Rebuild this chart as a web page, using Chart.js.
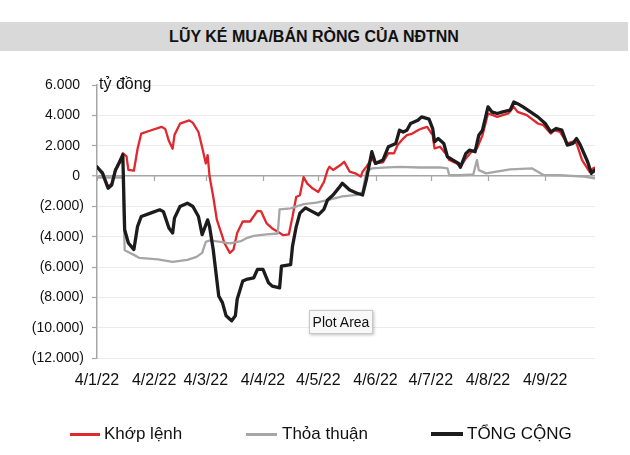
<!DOCTYPE html>
<html><head><meta charset="utf-8">
<script src="https://cdn.jsdelivr.net/npm/chart.js@4.4.0/dist/chart.umd.min.js"></script>
<style>
html,body{margin:0;padding:0;background:#fff;}
#wrap{position:relative;width:630px;height:455px;overflow:hidden;font-family:"Liberation Sans",Arial,sans-serif;color:#111;}
#band{position:absolute;left:0;top:22px;width:628px;height:29px;background:#d9d9d9;}
#title{position:absolute;left:0;top:22px;width:628px;height:29px;line-height:29px;text-align:center;font-weight:bold;font-size:16px;}
canvas{position:absolute;left:0;top:0;}
#unit{position:absolute;left:99px;top:75px;font-size:16px;line-height:18px;}
.lg{position:absolute;font-size:17px;line-height:20px;top:424px;}
.ln{position:absolute;}
#plotarea{position:absolute;left:309px;top:310px;width:62px;height:22px;border:1px solid #c8c8c8;background:#f8f8f8;box-shadow:1px 1px 3px rgba(0,0,0,0.25);font-size:14px;line-height:22px;text-align:center;}
</style></head>
<body>
<div id="wrap">
<div id="band"></div>
<div id="title">LŨY KÉ MUA/BÁN RÒNG CỦA NĐTNN</div>
<canvas id="c" width="630" height="455"></canvas>
<div id="unit">tỷ đồng</div>
<div class="ln" style="left:70px;top:433px;width:30px;height:3px;background:#e0282e"></div>
<div class="lg" style="left:104px">Khớp lệnh</div>
<div class="ln" style="left:246px;top:433px;width:31px;height:3px;background:#a6a6a6"></div>
<div class="lg" style="left:282px">Thỏa thuận</div>
<div class="ln" style="left:431px;top:432px;width:32px;height:4px;background:#1c1c1c"></div>
<div class="lg" style="left:467px">TỔNG CỘNG</div>
<div id="plotarea">Plot Area</div>
</div>
<script>
// x values are days counted from 4/1/22 (4 Jan 2022)
const xTickDays = [0,31,59,90,120,151,181,212,243];
const xTickLabels = ['4/1/22','4/2/22','4/3/22','4/4/22','4/5/22','4/6/22','4/7/22','4/8/22','4/9/22'];

const khopDays = [0,3,6,8,10,11,13,14,16,17,20,22,24,29,35,37,39,41,42,45,50,52,55,57,59,60,61,63,65,68,69,72,74,76,79,83,87,89,92,95,98,101,104,106,108,110,112,114,117,120,123,125,126,128,132,134,137,140,143,144,146,149,151,155,158,161,163,166,168,171,174,176,179,182,183,186,189,191,195,197,200,203,206,209,212,214,217,220,223,226,228,233,239,242,246,248,251,255,258,260,263,267,269,270];
const khopVals = [550,250,-700,-500,450,700,950,1500,1300,400,350,1800,2800,3000,3240,3100,2300,1800,2700,3450,3670,3500,2900,1900,830,1380,0,-1350,-2900,-4000,-4400,-5070,-4850,-3760,-3000,-3000,-2300,-2340,-3130,-3460,-3680,-3900,-3850,-2690,-1380,-1270,-70,-500,-830,-1050,-400,390,610,400,720,940,285,175,-40,285,600,1150,830,900,1500,1490,2040,2470,2690,2800,3020,3130,3240,2690,1820,1930,1490,1050,830,610,1160,1600,1820,2690,4120,4050,3900,4010,4120,4560,4230,4010,3460,3350,2800,3020,2910,2150,2260,2150,1050,285,500,550];

const thoaDays = [0,14,15,20,23,33,41,49,54,57,59,61,67,72,78,81,85,92,98,99,105,112,119,126,133,141,144,146,149,155,164,175,186,190,191,197,204,206,207,211,215,224,236,242,251,264,270];
const thoaVals = [-100,-100,-4900,-5200,-5400,-5500,-5660,-5530,-5330,-5070,-4340,-4250,-4340,-4450,-4300,-4100,-3950,-3850,-3790,-2200,-2130,-1850,-1750,-1550,-1350,-1250,-1050,300,500,550,600,560,570,500,50,50,100,1050,390,175,250,440,500,65,50,-40,-150];

const tongDays = [0,3,6,8,10,11,14,15,17,20,22,24,29,34,36,39,41,42,45,49,52,55,57,60,61,63,66,68,70,73,75,76,79,81,85,87,90,93,95,99,100,105,106,108,110,113,116,120,123,125,128,131,133,137,141,144,146,149,151,155,158,162,164,166,168,170,174,176,180,182,183,185,188,190,193,196,197,200,202,205,207,209,212,214,217,220,224,226,228,231,235,239,243,246,249,252,255,258,260,262,266,268,270];
const tongVals = [610,175,-810,-590,390,610,1400,-3540,-4420,-4850,-3320,-2670,-2450,-2230,-2350,-3430,-3760,-2780,-2010,-1790,-2010,-2670,-3870,-2890,-3320,-4850,-7910,-8350,-9220,-9550,-9220,-8130,-6930,-6820,-6710,-6160,-6160,-7040,-7260,-7370,-5950,-5840,-4630,-3350,-2450,-2100,-2300,-2560,-2200,-1580,-1250,-800,-480,-920,-1140,-1250,-260,1600,830,1050,1930,2150,3020,2900,3020,3460,3680,3900,3750,3130,2260,2470,2150,1270,1050,830,570,1490,1710,1600,2690,3020,4560,4230,4120,4230,4340,4880,4770,4560,4230,3900,3460,2910,3130,3020,2040,2150,2470,2050,940,175,390];

const yMin = -12000, yMax = 6000, yStep = 2000;

function pts(days, vals){ return days.map((d,i)=>({x:d,y:vals[i]})); }
function fmt(v){
  const a = Math.abs(v).toString().replace(/\B(?=(\d{3})+(?!\d))/g,'.');
  return v < 0 ? '(' + a + ')' : a + '\u2008';
}

const zeroTicks = {
  id:'zeroTicks',
  beforeDatasetsDraw(chart){
    const {ctx, scales:{x,y}} = chart;
    const y0 = y.getPixelForValue(0);
    ctx.save();
    ctx.strokeStyle = '#a6a6a6';
    ctx.lineWidth = 1.2;
    xTickDays.forEach(d=>{
      const px = Math.round(x.getPixelForValue(d)) + 0.5;
      ctx.beginPath(); ctx.moveTo(px, y0); ctx.lineTo(px, y0 + 5); ctx.stroke();
    });
    ctx.restore();
  }
};

Chart.defaults.font.family = '"Liberation Sans", Arial, sans-serif';
Chart.defaults.color = '#111';

new Chart(document.getElementById('c'), {
  type:'line',
  data:{ datasets:[
    {label:'Khớp lệnh', data:pts(khopDays,khopVals), borderColor:'#e0282e', borderWidth:2.3, order:2},
    {label:'Thỏa thuận', data:pts(thoaDays,thoaVals), borderColor:'#a6a6a6', borderWidth:2.3, order:1},
    {label:'TỔNG CỘNG', data:pts(tongDays,tongVals), borderColor:'#1c1c1c', borderWidth:3.3, order:0}
  ]},
  options:{
    responsive:false, animation:false, devicePixelRatio:1,
    layout:{padding:{left:0, top:85, right:35, bottom:0}},
    elements:{point:{radius:0}, line:{tension:0, borderJoinStyle:'round', borderCapStyle:'round'}},
    plugins:{legend:{display:false}, title:{display:false}, tooltip:{enabled:false}},
    scales:{
      x:{type:'linear', min:0, max:270,
        grid:{display:false, drawTicks:false}, border:{display:false},
        afterBuildTicks(s){ s.ticks = xTickDays.map(v=>({value:v})); },
        afterFit(s){ s.height = 97; },
        ticks:{autoSkip:false, maxRotation:0, padding:13, font:{size:16},
          callback(v){ const i = xTickDays.indexOf(v); return i >= 0 ? xTickLabels[i] : ''; }}
      },
      y:{type:'linear', min:yMin, max:yMax,
        afterFit(s){ s.width = 97; },
        border:{display:true, color:'#a6a6a6', width:1.5},
        grid:{ drawTicks:true, tickLength:5, tickColor:'#a6a6a6', tickWidth:1.2,
          color(c){ return c.tick && c.tick.value === 0 ? '#a6a6a6' : '#ebebeb'; },
          lineWidth(c){ return c.tick && c.tick.value === 0 ? 1.5 : 1; } },
        ticks:{stepSize:yStep, padding:8, font:{size:14}, callback(v){ return fmt(v); }}
      }
    }
  },
  plugins:[zeroTicks]
});
</script>
</body></html>
